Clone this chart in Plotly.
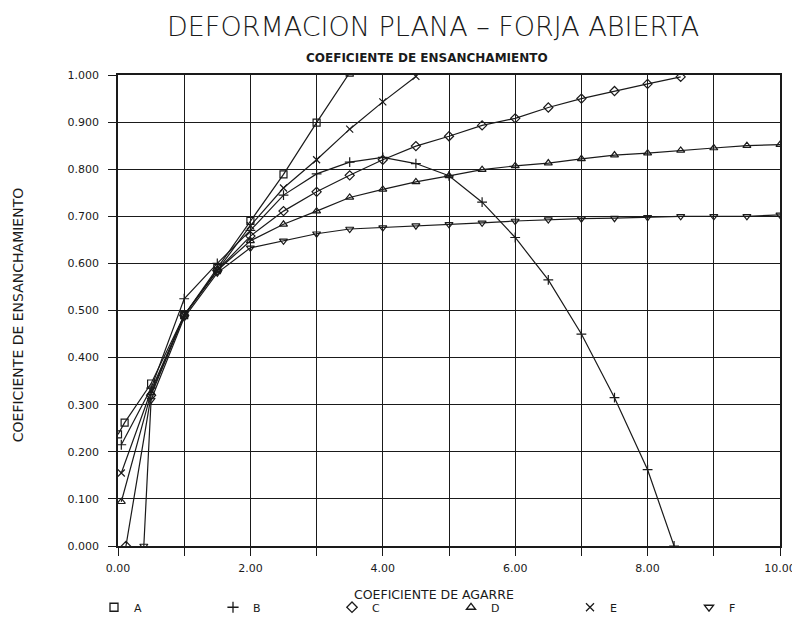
"""Deformacion plana - forja abierta: coeficiente de ensanchamiento vs agarre."""
import plotly.graph_objects as go

# --- datos ---
A_x = [0.0, 0.1, 0.5, 1.0, 1.5, 2.0, 2.5, 3.0, 3.5]
A_y = [0.237, 0.262, 0.345, 0.49, 0.59, 0.69, 0.789, 0.899, 1.005]

B_x = [0.05, 0.5, 1.0, 1.5, 2.0, 2.5, 3.0, 3.5, 4.0, 4.5, 5.0, 5.5, 6.0,
       6.5, 7.0, 7.5, 8.0, 8.4]
B_y = [0.215, 0.335, 0.525, 0.60, 0.67, 0.745, 0.79, 0.815, 0.825, 0.812,
       0.786, 0.73, 0.655, 0.565, 0.45, 0.315, 0.162, 0.0]

C_x = [0.12, 0.5, 1.0, 1.5, 2.0, 2.5, 3.0, 3.5, 4.0, 4.5, 5.0, 5.5, 6.0,
       6.5, 7.0, 7.5, 8.0, 8.5]
C_y = [0.0, 0.32, 0.49, 0.585, 0.658, 0.711, 0.752, 0.787, 0.82, 0.849,
       0.87, 0.893, 0.908, 0.931, 0.95, 0.966, 0.981, 0.996]

D_x = [0.05, 0.5, 1.0, 1.5, 2.0, 2.5, 3.0, 3.5, 4.0, 4.5, 5.0, 5.5, 6.0,
       6.5, 7.0, 7.5, 8.0, 8.5, 9.0, 9.5, 10.0]
D_y = [0.094, 0.325, 0.49, 0.585, 0.648, 0.683, 0.711, 0.74, 0.757, 0.773,
       0.786, 0.799, 0.807, 0.813, 0.822, 0.83, 0.834, 0.84, 0.845, 0.85, 0.852]

E_x = [0.05, 0.5, 1.0, 1.5, 2.0, 2.5, 3.0, 3.5, 4.0, 4.5]
E_y = [0.155, 0.33, 0.49, 0.585, 0.68, 0.76, 0.82, 0.885, 0.943, 0.997]

F_x = [0.39, 0.5, 1.0, 1.5, 2.0, 2.5, 3.0, 3.5, 4.0, 4.5, 5.0, 5.5, 6.0,
       6.5, 7.0, 7.5, 8.0, 8.5, 9.0, 9.5, 10.0]
F_y = [0.0, 0.31, 0.485, 0.58, 0.633, 0.648, 0.663, 0.673, 0.676, 0.68,
       0.683, 0.686, 0.69, 0.693, 0.695, 0.696, 0.698, 0.70, 0.70, 0.70, 0.703]

x_ticks = [0, 1, 2, 3, 4, 5, 6, 7, 8, 9, 10]
x_labels = ["0.00", "", "2.00", "", "4.00", "", "6.00", "", "8.00", "", "10.00"]

series = [
    ("A", A_x, A_y, "square-open"),
    ("B", B_x, B_y, "cross-thin-open"),
    ("C", C_x, C_y, "diamond-open"),
    ("D", D_x, D_y, "triangle-up-open"),
    ("E", E_x, E_y, "x-thin-open"),
    ("F", F_x, F_y, "triangle-down-open"),
]

INK = "#1a1a1a"
FONT = "DejaVu Sans"

fig = go.Figure()
for name, xs, ys, sym in series:
    fig.add_trace(go.Scatter(
        x=xs, y=ys, mode="lines+markers", name=name, showlegend=False,
        line=dict(color=INK, width=1.2),
        marker=dict(symbol=sym, size=7, color=INK, line=dict(width=1.2, color=INK)),
    ))
    # entrada de leyenda solo con el simbolo
    fig.add_trace(go.Scatter(
        x=[None], y=[None], mode="markers", name=name,
        marker=dict(symbol=sym, size=8, color=INK, line=dict(width=1.3, color=INK)),
    ))

axis_common = dict(
    showgrid=True, gridcolor=INK, gridwidth=1.3,
    showline=True, linecolor=INK, linewidth=1.6, mirror=True,
    ticks="outside", ticklen=8, tickcolor=INK, tickwidth=1.3,
    zeroline=False, tickfont=dict(family=FONT, size=11, color=INK),
)

fig.update_xaxes(range=[0, 10], tickvals=x_ticks, ticktext=x_labels,
                 ticklabelstandoff=3, **axis_common)
fig.update_yaxes(range=[0, 1], dtick=0.1, tickformat=".3f",
                 ticklabelstandoff=7, **axis_common)

fig.update_layout(
    width=800, height=626,
    margin=dict(l=110, r=18, t=67, b=84),
    paper_bgcolor="white", plot_bgcolor="white",
    font=dict(family=FONT, color=INK),
    legend=dict(
        orientation="h", x=-0.035, xanchor="left", y=-0.13, yanchor="middle",
        entrywidth=74, entrywidthmode="pixels",
        font=dict(family=FONT, size=11, color=INK),
        bgcolor="rgba(0,0,0,0)",
    ),
    annotations=[
        dict(text="DEFORMACION PLANA – FORJA ABIERTA", x=0.476, y=1.0,
             xref="paper", yref="paper", yanchor="bottom", yshift=31,
             showarrow=False,
             font=dict(family=FONT, size=27, color=INK, weight=300)),
        dict(text="<b>COEFICIENTE DE ENSANCHAMIENTO</b>", x=0.467, y=1.0,
             xref="paper", yref="paper", yanchor="bottom", yshift=8,
             showarrow=False, font=dict(family=FONT, size=12, color=INK)),
        dict(text="COEFICIENTE DE AGARRE", x=0.478, y=0, xref="paper",
             yref="paper", yanchor="middle", yshift=-48, showarrow=False,
             font=dict(family=FONT, size=12.5, color=INK)),
        dict(text="COEFICIENTE DE ENSANCHAMIENTO", x=0, y=0.49, xref="paper",
             yref="paper", textangle=-90, xanchor="center", xshift=-100,
             showarrow=False, font=dict(family=FONT, size=14, color=INK)),
    ],
)

fig.write_html("out.html")
